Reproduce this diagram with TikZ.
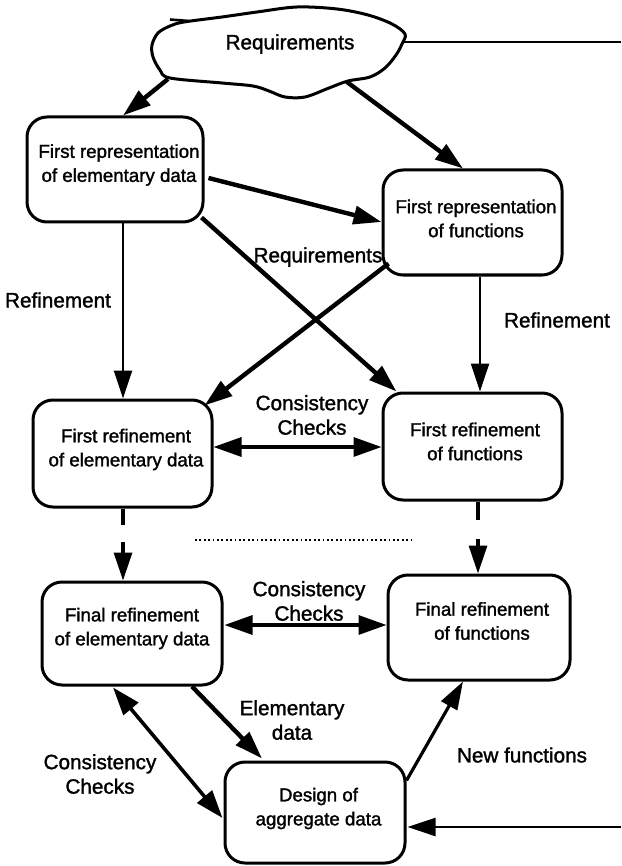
\documentclass[tikz,border=0pt]{standalone}
\usepackage{fontspec}
\setmainfont{Liberation Sans}[FakeBold=1.5]
\usetikzlibrary{arrows.meta,calc}

\begin{document}
\begin{tikzpicture}[x=1pt,y=-1pt,
  box/.style={draw, line width=3pt, rounded corners=20pt,
              minimum width=179pt, minimum height=105pt, inner sep=0pt},
  btxt/.style={font=\fontsize{18.7}{24}\selectfont, align=center, inner sep=0pt},
  lbl/.style={font=\fontsize{20.7}{24.5}\selectfont, align=center, inner sep=0pt},
  arr/.style={-{Triangle[length=28pt,width=18pt]}},
  darr/.style={{Triangle[length=28pt,width=19pt]}-{Triangle[length=28pt,width=19pt]}},
  thin/.style={line width=2.4pt},
  mid/.style={line width=3.2pt},
  thick/.style={line width=4.4pt},
]
\useasboundingbox (0,0) rectangle (621,866);
\fill[white] (0,0) rectangle (621,866);

% cloud holding the requirements
\draw[line width=3pt, line join=round] plot[smooth cycle, tension=0.55] coordinates {
  (184,22) (222,17) (257,12) (297,7) (337,9) (368,15) (392,24) (405,34)
  (402,44) (396,55) (385,68) (370,77) (348,81) (329,88) (305,97) (285,97)
  (269,91) (253,86) (222,83) (170,78) (160,70) (153,57) (152,45) (158,33) (170,26)};
\draw[line width=2.6pt] (170,19.5) -- (189,21);
\node[lbl] (req) at (290,44) {Requirements};
\coordinate (reqSW) at (168,79);
\coordinate (reqS) at (347,82);
\coordinate (reqE) at (403,42.5);
\coordinate (edgeTop) at (621,42.5);
\coordinate (edgeBot) at (621,827);

% boxes
\node[box, minimum width=176pt] (b1) at (115,169.5) {};
\node[btxt] (t1) at (119,165) {First representation\\of elementary data};
\node[box] (b2) at (472.5,222.5) {};
\node[btxt] (t2) at (476,218.5) {First representation\\of functions};
\node[box, minimum height=107pt] (b3) at (122.5,453.5) {};
\node[btxt] (t3) at (126,449.5) {First refinement\\of elementary data};
\node[box, minimum height=107pt] (b4) at (472.5,446.5) {};
\node[btxt] (t4) at (475,441.5) {First refinement\\of functions};
\node[box, minimum width=180pt, minimum height=103pt] (fe) at (132,633.5) {};
\node[btxt] (t5) at (132,628.5) {Final refinement\\of elementary data};
\node[box, minimum width=182pt] (ff) at (479,627.5) {};
\node[btxt] (t6) at (482,621) {Final refinement\\of functions};
\node[box, minimum width=180pt, minimum height=101pt] (des) at (315,812.5) {};
\node[btxt] (t7) at (318.5,808.5) {Design of\\aggregate data};

% edge labels
\node[lbl] (lreq) at (318,257) {Requirements};
\node[lbl] (lref1) at (58,300) {Refinement};
\node[lbl] (lref2) at (557,320) {Refinement};
\node[lbl] (lcc1) at (312,415) {Consistency\\Checks};
\node[lbl] (lcc2) at (309,601) {Consistency\\Checks};
\node[lbl] (lel) at (292,720) {Elementary\\data};
\node[lbl] (lcc3) at (100,774) {Consistency\\Checks};
\node[lbl] (lnf) at (522,755) {New functions};

% connectors
\draw[line width=2pt] (reqE) -- (edgeTop);
\draw[thick, arr] (reqSW) -- ($(b1.north)+(8,0)$);
\draw[thick, arr] (reqS) -- ($(b2.north)+(-9.5,0)$);
\draw[thick, arr] ($(b1.east)+(4,8.5)$) -- ($(b2.west)+(0,-0.5)$);
\draw[thin, arr] ($(b1.south)+(8,0)$) -- ($(b3.north)+(0.5,0)$);
\draw[thick, arr] ($(b1.south east)+(-3,-6)$) -- ($(b4.north west)+(15,0)$);
\draw[thick, arr] ($(b2.south west)+(7,-13)$) -- ($(b3.north east)+(-9,7)$);
\draw[thin, arr] ($(b2.south)+(7.5,0)$) -- ($(b4.north)+(7.5,0)$);
\draw[mid, darr] ($(b3.east)+(0,-6.5)$) -- ($(b4.west)+(0,0.5)$);

% continuation towards the final refinements
\draw[mid, arr, dash pattern=on 16pt off 17pt on 200pt] ($(b3.south)+(0.5,0)$) -- ($(fe.north)+(-9,0)$);
\draw[mid, arr, dash pattern=on 18pt off 19pt on 200pt] ($(b4.south)+(5.5,0)$) -- ($(ff.north)+(-1,0)$);
\coordinate (dotL) at (195,540);
\coordinate (dotR) at (413,540);
\draw[line width=2pt, dash pattern=on 1.8pt off 2.6pt] (dotL) -- (dotR);

\draw[mid, darr] ($(fe.east)+(1,-8.5)$) -- ($(ff.west)+(0,-2.5)$);
\draw[thick, arr] ($(fe.south)+(60,0)$) -- ($(des.north)+(-53,-2)$);
\draw[line width=3.6pt, darr] ($(fe.south)+(-19,1)$) -- ($(des.west)+(-1,5.5)$);
\draw[mid, arr] ($(des.north east)+(0,20)$) -- ($(ff.south)+(-16,0)$);
\draw[thin, arr] (edgeBot) -- ($(des.east)+(1,14.5)$);
\end{tikzpicture}
\end{document}
